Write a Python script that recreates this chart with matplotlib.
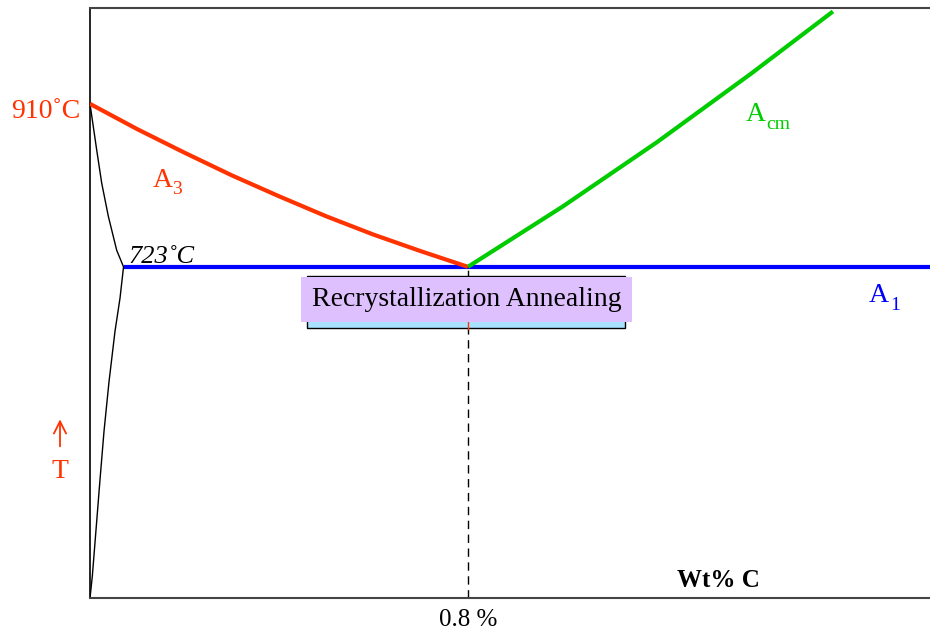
import matplotlib.pyplot as plt
from matplotlib.patches import Rectangle

# phase boundaries (wt% C, temperature in C)
a3_x = [0.0, 0.1, 0.2, 0.3, 0.4, 0.5, 0.6, 0.7, 0.8]
a3_t = [910, 881, 854, 828, 804, 781, 760, 741, 723]

acm_x = [0.8, 1.0, 1.2, 1.4, 1.5725]
acm_t = [723, 792, 866, 945, 1016]

a1_x = [0.071, 1.78]
a1_t = [723, 723]

upper_x = [0.0, 0.0142, 0.0248, 0.0388, 0.0565, 0.071]
upper_t = [910, 857, 819, 781, 742, 723]
lower_x = [0.071, 0.0635, 0.0529, 0.0402, 0.0296, 0.0212, 0.0127, 0.0049, 0.0]
lower_t = [723, 687, 649, 591, 534, 479, 421, 368, 343]

eutectoid_x = 0.8
eutectoid_t = 723

RED = '#ff3300'
GREEN = '#00cc00'
BLUE = '#0000ff'
SERIF = ['Liberation Serif', 'DejaVu Serif']

plt.rcParams['font.family'] = SERIF

fig = plt.figure(figsize=(9.3, 6.34), dpi=100)
ax = fig.add_axes([90 / 930, 1 - 598 / 634, 1 - 90 / 930, (598 - 8) / 634])
ax.set_xlim(0, 1.778)
ax.set_ylim(343, 1020)

# thin boundaries near the iron side
ax.plot(upper_x, upper_t, color='black', lw=1)
ax.plot(lower_x, lower_t, color='black', lw=1)

# dashed line down to the axis at 0.8 %
ax.plot([eutectoid_x, eutectoid_x], [343, eutectoid_t], color='black', lw=1,
        dashes=(6, 4), zorder=1)

ax.plot(a1_x, a1_t, color=BLUE, lw=3, solid_capstyle='butt', zorder=3)
ax.plot(a3_x, a3_t, color=RED, lw=3, solid_capstyle='butt', zorder=4)
ax.plot(acm_x, acm_t, color=GREEN, lw=3, solid_capstyle='butt', zorder=4)

# annealing range box
ax.add_patch(Rectangle((0.459, 653), 1.132 - 0.459, 712.7 - 653,
                       facecolor='#a8e2ff', edgecolor='black', lw=1, zorder=5))
ax.plot([eutectoid_x, eutectoid_x], [652, 661], color=RED, lw=1, zorder=5.5)
ax.add_patch(Rectangle((0.4466, 660), 1.147 - 0.4466, 711.5 - 660,
                       facecolor='#dfc0ff', edgecolor='none', zorder=6))
ax.text(0.797, 686, 'Recrystallization Annealing', fontsize=20,
        ha='center', va='center', zorder=7)

# labels
ax.text(-0.021, 901, '910˚C', color=RED, fontsize=20, ha='right',
        va='center', clip_on=False)
ax.text(0.133, 815, 'A', color=RED, fontsize=20, va='baseline')
ax.text(0.173, 806, '3', color=RED, fontsize=14, va='baseline')
ax.text(0.0804, 727.6, '723˚C', color='black', fontsize=19, style='italic',
        ha='left', va='baseline')
ax.text(1.388, 890, 'A', color=GREEN, fontsize=20, va='baseline')
ax.text(1.431, 881, 'cm', color=GREEN, fontsize=14, va='baseline')
ax.text(1.649, 683, 'A', color=BLUE, fontsize=20, va='baseline')
ax.text(1.693, 674, '1', color=BLUE, fontsize=14, va='baseline')

# temperature arrow
ax.annotate('', xy=(-0.0635, 548), xytext=(-0.0635, 517),
            arrowprops=dict(arrowstyle='->', color=RED, lw=1.3,
                            mutation_scale=22, shrinkA=0, shrinkB=0),
            annotation_clip=False)
ax.text(-0.0635, 481, 'T', color=RED, fontsize=20, ha='center',
        va='baseline', clip_on=False)
ax.text(1.242, 356, 'Wt% C', fontsize=18, fontweight='bold', ha='left',
        va='baseline')

ax.set_xticks([eutectoid_x])
ax.set_xticklabels(['0.8 %'], fontsize=18)
ax.tick_params(axis='x', length=0, pad=8)
ax.set_yticks([])

ax.spines['right'].set_visible(False)
ax.spines['left'].set_color('black')
ax.spines['left'].set_linewidth(1.2)
for side in ['top', 'bottom']:
    ax.spines[side].set_color('#444444')
    ax.spines[side].set_linewidth(1.5)

fig.savefig('out.png', dpi=100)
